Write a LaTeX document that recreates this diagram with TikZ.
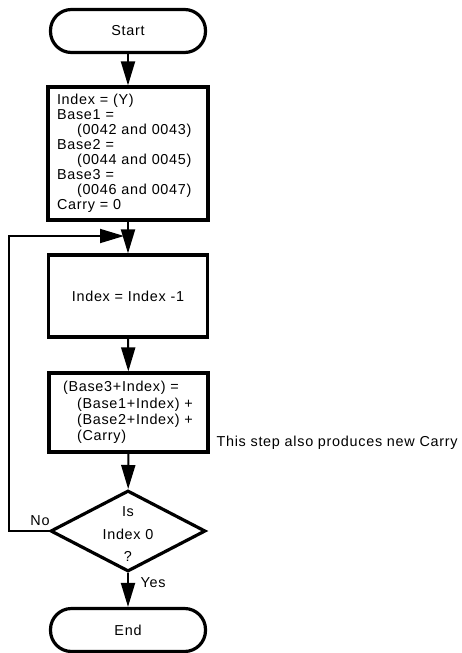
\documentclass[tikz,border=0pt]{standalone}
\usepackage{fontspec}
\setmainfont{Liberation Sans}[LetterSpace=5]
\usetikzlibrary{positioning, arrows.meta, shapes.geometric}

\tikzset{
  terminal/.style={draw, line width=3.2pt, rounded corners=21pt, minimum width=155pt, minimum height=43pt},
  procbox/.style={draw, line width=3.2pt},
  decision/.style={draw, diamond, aspect=1.9, line width=3.2pt, inner sep=0pt, minimum width=155pt, minimum height=81pt},
  flow/.style={line width=2pt, -{Triangle[length=24pt, width=14pt]}},
  lbl/.style={font=\fontsize{14.4}{15}\selectfont},
}

\begin{document}
\begin{tikzpicture}[x=1pt, y=-1pt, font=\fontsize{14.4}{15}\selectfont]
    \useasboundingbox (0,0) rectangle (461,653);

    % début et fin
    \node[terminal] (start) at (128,31) {Start};
    \node[terminal] (end) at (128,630) {End};

    % boîtes de calcul
    \node[procbox, align=left, text width=142pt, inner xsep=9pt, minimum height=133pt] (init) at (128,153.5)
      {Index = (Y)\\Base1 =\\\hspace*{20pt}(0042 and 0043)\\Base2 =\\\hspace*{20pt}(0044 and 0045)\\Base3 =\\\hspace*{20pt}(0046 and 0047)\\Carry = 0};
    \node[procbox, minimum width=159pt, minimum height=82pt] (dec) at (128,296) {Index = Index -1};
    \node[procbox, align=left, text width=131pt, inner xsep=14pt, minimum height=79pt,
          font=\fontsize{14.4}{16.3}\selectfont] (add) at (128.5,412.5)
      {(Base3+Index) =\\\hspace*{14pt}(Base1+Index) +\\\hspace*{14pt}(Base2+Index) +\\\hspace*{14pt}(Carry)};
    \node[lbl, anchor=west] (note) at (213,443) {This step also produces new Carry};

    % test
    \node[decision] (test) at (128,531) {};
    \node[align=center, font=\fontsize{14.4}{22.5}\selectfont] (testtxt) at (128,534.5) {Is\\Index 0\\?};
    \node[lbl] (no) at (40,521) {No};
    \node[lbl, anchor=west] (yes) at (137,583) {Yes};

    % flèches
    \coordinate (merge) at (128,236);
    \draw[flow] (start) -- (init);
    \draw[flow] (init) -- (dec);
    \draw[flow] (dec) -- (add);
    \draw[flow] (add) -- (test);
    \draw[flow] (test) -- (end);
    \draw[flow, line width=1.8pt, shorten >=4pt] (test.west) -- ++(-40,0) |- (merge);
  \end{tikzpicture}
\end{document}
